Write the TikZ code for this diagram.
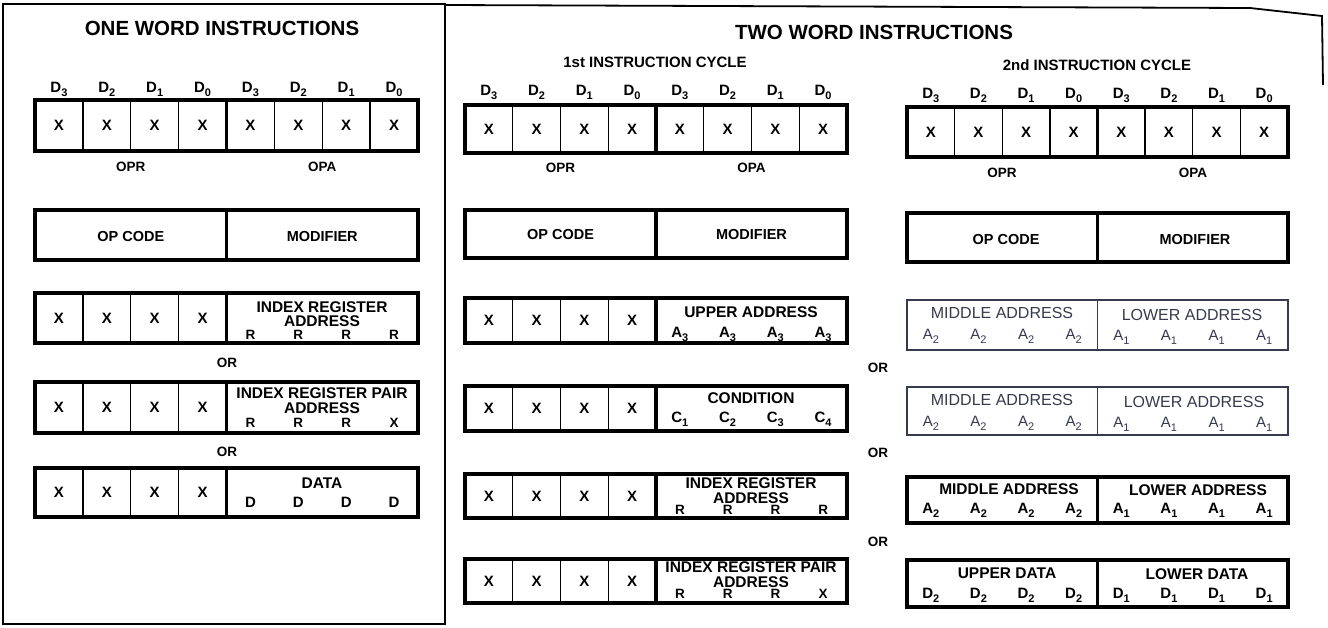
\documentclass[tikz,border=0pt]{standalone}
\usepackage{fontspec}
\setmainfont{Liberation Sans}
\definecolor{slate}{RGB}{55,57,78}
\newcommand\sbs[1]{\raisebox{-0.28em}{\fontsize{11}{11}\selectfont #1}}
\newcommand\bitrow[4]{%
  \foreach \k in {1,2,3,5,6,7} \draw[inner] ({#1+\k*(#3-#1)/8},#2) -- ({#1+\k*(#3-#1)/8},#4);
  \draw[outer] ({(#1+#3)/2},#2) -- ({(#1+#3)/2},#4);
  \draw[outer] (#1,#2) rectangle (#3,#4);}
\newcommand\halfrow[4]{%
  \foreach \k in {1,2,3} \draw[inner] ({#1+\k*(#3-#1)/8},#2) -- ({#1+\k*(#3-#1)/8},#4);
  \draw[outer] ({(#1+#3)/2},#2) -- ({(#1+#3)/2},#4);
  \draw[outer] (#1,#2) rectangle (#3,#4);}
\newcommand\splitrow[5][outer]{%
  \draw[#1] ({(#2+#4)/2},#3) -- ({(#2+#4)/2},#5);
  \draw[#1] (#2,#3) rectangle (#4,#5);}
% #1 x start, #2 cell width, #3 y, #4 name prefix, #5 style, #6 list
\newcommand\fourat[6]{%
  \foreach \t [count=\k] in {#6} \node[#5] (#4\k) at ({#1+(\k-0.5)*#2},#3) {\t};}
\tikzset{
  frame/.style={line width=1.8pt},
  outer/.style={line width=3.2pt},
  inner/.style={line width=1.3pt},
  thinbox/.style={line width=1.6pt, draw=slate},
  txt/.style={inner sep=0pt, text depth=0pt},
  ttl/.style={txt, font=\fontsize{20.5}{20.5}\selectfont\bfseries, text height=14.7pt},
  cyc/.style={txt, font=\fontsize{15}{15}\selectfont\bfseries, text height=10.7pt},
  dl/.style={txt, font=\fontsize{15}{15}\selectfont\bfseries, text height=10.7pt},
  xl/.style={txt, font=\fontsize{15}{15}\selectfont\bfseries, text height=10.7pt},
  opl/.style={txt, font=\fontsize{13.5}{13.5}\selectfont\bfseries, text height=9.7pt},
  fld/.style={txt, font=\fontsize{14.5}{14.5}\selectfont\bfseries, text height=10.4pt},
  hd/.style={txt, font=\fontsize{15.5}{15.5}\selectfont\bfseries, text height=11.1pt},
  sm/.style={txt, font=\fontsize{13.5}{13.5}\selectfont\bfseries, text height=9.7pt},
  lt/.style={txt, font=\fontsize{16}{16}\selectfont, text height=11.5pt, text=slate},
  ltl/.style={txt, font=\fontsize{15}{15}\selectfont, text height=10.7pt, text=slate},
}
\begin{document}
\begin{tikzpicture}[x=1pt,y=-1pt]
\useasboundingbox (0,0) rectangle (1328,627);
% frames
\draw[frame] (3,4) rectangle (445,624);
\draw[frame] (445,5) -- (1250,8) -- (1322,16) -- (1323,85);

% ================= LEFT PANEL =================
\node[ttl] (t1) at (222,28) {ONE WORD INSTRUCTIONS};
\fourat{35}{47.875}{87}{ldA}{dl}{D\sbs{3},D\sbs{2},D\sbs{1},D\sbs{0}}
\fourat{226.5}{47.875}{87}{ldB}{dl}{D\sbs{3},D\sbs{2},D\sbs{1},D\sbs{0}}
\bitrow{35}{100}{418}{151}
\fourat{35}{47.875}{125.5}{lxA}{xl}{X,X,X,X}
\fourat{226.5}{47.875}{125.5}{lxB}{xl}{X,X,X,X}
\node[opl] (lopr) at (130.75,167) {OPR};
\node[opl] (lopa) at (322.25,167) {OPA};
\splitrow{35}{210}{418}{260}
\node[fld] (lopc) at (130.75,236) {OP CODE};
\node[fld] (lmod) at (322.25,236) {MODIFIER};
% row 3
\halfrow{35}{293}{418}{343}
\fourat{35}{47.875}{318}{l3x}{xl}{X,X,X,X}
\node[hd] (l3a) at (322,307) {INDEX REGISTER};
\node[hd] (l3b) at (322,321) {ADDRESS};
\fourat{226.5}{47.875}{335}{l3r}{sm}{R,R,R,R}
\node[sm] (lor1) at (227,363) {OR};
% row 4
\halfrow{35}{382}{418}{433}
\fourat{35}{47.875}{407.5}{l4x}{xl}{X,X,X,X}
\node[hd] (l4a) at (322,393) {INDEX REGISTER PAIR};
\node[hd] (l4b) at (322,408) {ADDRESS};
\fourat{226.5}{47.875}{423}{l4r}{sm}{R,R,R,X}
\node[sm] (lor2) at (227,452) {OR};
% row 5
\halfrow{35}{468}{418}{517}
\fourat{35}{47.875}{492.5}{l5x}{xl}{X,X,X,X}
\node[hd] (l5a) at (322,483) {DATA};
\fourat{226.5}{47.875}{502}{l5d}{xl}{D,D,D,D}

% ================= MIDDLE COLUMN =================
\node[ttl] (t2) at (874,32) {TWO WORD INSTRUCTIONS};
\node[cyc] (c1) at (655,62) {1st INSTRUCTION CYCLE};
\fourat{465}{47.75}{90}{mdA}{dl}{D\sbs{3},D\sbs{2},D\sbs{1},D\sbs{0}}
\fourat{656}{47.75}{90}{mdB}{dl}{D\sbs{3},D\sbs{2},D\sbs{1},D\sbs{0}}
\bitrow{465}{105}{847}{153}
\fourat{465}{47.75}{129}{mxA}{xl}{X,X,X,X}
\fourat{656}{47.75}{129}{mxB}{xl}{X,X,X,X}
\node[opl] (mopr) at (560.5,168) {OPR};
\node[opl] (mopa) at (751.5,168) {OPA};
\splitrow{465}{210}{847}{258}
\node[fld] (mopc) at (560.5,234) {OP CODE};
\node[fld] (mmod) at (751.5,234) {MODIFIER};
% row A
\halfrow{465}{298}{847}{343}
\fourat{465}{47.75}{320.5}{maX}{xl}{X,X,X,X}
\node[hd] (mat) at (751,312) {UPPER ADDRESS};
\fourat{656}{47.75}{332}{maA}{xl}{A\sbs{3},A\sbs{3},A\sbs{3},A\sbs{3}}
% row B
\halfrow{465}{386}{847}{431}
\fourat{465}{47.75}{408.5}{mbX}{xl}{X,X,X,X}
\node[hd] (mbt) at (751,398) {CONDITION};
\fourat{656}{47.75}{417}{mbC}{xl}{C\sbs{1},C\sbs{2},C\sbs{3},C\sbs{4}}
% row C
\halfrow{465}{474}{847}{518}
\fourat{465}{47.75}{496}{mcX}{xl}{X,X,X,X}
\node[hd] (mct) at (751,483) {INDEX REGISTER};
\node[hd] (mcu) at (751,497.5) {ADDRESS};
\fourat{656}{47.75}{510}{mcR}{sm}{R,R,R,R}
% row D
\halfrow{465}{559}{847}{603}
\fourat{465}{47.75}{581}{mdX}{xl}{X,X,X,X}
\node[hd] (mdt) at (751,567) {INDEX REGISTER PAIR};
\node[hd] (mdu) at (751,581.5) {ADDRESS};
\fourat{656}{47.75}{594}{mdR}{sm}{R,R,R,X}
% ORs
\node[sm] (mor1) at (878,368) {OR};
\node[sm] (mor2) at (878,453) {OR};
\node[sm] (mor3) at (878,542) {OR};

% ================= RIGHT COLUMN =================
\node[cyc] (c2) at (1097,65) {2nd INSTRUCTION CYCLE};
\fourat{907}{47.625}{93}{rdA}{dl}{D\sbs{3},D\sbs{2},D\sbs{1},D\sbs{0}}
\fourat{1097.5}{47.625}{93}{rdB}{dl}{D\sbs{3},D\sbs{2},D\sbs{1},D\sbs{0}}
\bitrow{907}{107}{1288}{157}
\fourat{907}{47.625}{132}{rxA}{xl}{X,X,X,X}
\fourat{1097.5}{47.625}{132}{rxB}{xl}{X,X,X,X}
\node[opl] (ropr) at (1002,173) {OPR};
\node[opl] (ropa) at (1193,173) {OPA};
\splitrow{907}{213}{1288}{262}
\node[fld] (ropc) at (1006,239) {OP CODE};
\node[fld] (rmod) at (1195,239) {MODIFIER};
% row A (thin)
\splitrow[thinbox]{907}{300}{1288}{350}
\node[lt] (rat) at (1002,313) {MIDDLE ADDRESS};
\node[lt] (rau) at (1192,315) {LOWER ADDRESS};
\fourat{907}{47.625}{334}{raA}{ltl}{A\sbs{2},A\sbs{2},A\sbs{2},A\sbs{2}}
\fourat{1097.5}{47.625}{335}{raB}{ltl}{A\sbs{1},A\sbs{1},A\sbs{1},A\sbs{1}}
% row B (thin)
\splitrow[thinbox]{907}{387}{1288}{435}
\node[lt] (rbt) at (1002,400) {MIDDLE ADDRESS};
\node[lt] (rbu) at (1194,402) {LOWER ADDRESS};
\fourat{907}{47.625}{421}{rbA}{ltl}{A\sbs{2},A\sbs{2},A\sbs{2},A\sbs{2}}
\fourat{1097.5}{47.625}{422}{rbB}{ltl}{A\sbs{1},A\sbs{1},A\sbs{1},A\sbs{1}}
% row C
\splitrow{907}{477}{1288}{523}
\node[hd] (rct) at (1009,489) {MIDDLE ADDRESS};
\node[hd] (rcu) at (1198,490) {LOWER ADDRESS};
\fourat{907}{47.625}{508}{rcA}{xl}{A\sbs{2},A\sbs{2},A\sbs{2},A\sbs{2}}
\fourat{1097.5}{47.625}{508}{rcB}{xl}{A\sbs{1},A\sbs{1},A\sbs{1},A\sbs{1}}
% row D
\splitrow{907}{560}{1288}{607}
\node[hd] (rdt) at (1007,573) {UPPER DATA};
\node[hd] (rdu) at (1197,574) {LOWER DATA};
\fourat{907}{47.625}{593}{rdD}{xl}{D\sbs{2},D\sbs{2},D\sbs{2},D\sbs{2}}
\fourat{1097.5}{47.625}{593}{rdE}{xl}{D\sbs{1},D\sbs{1},D\sbs{1},D\sbs{1}}
\end{tikzpicture}
\end{document}
